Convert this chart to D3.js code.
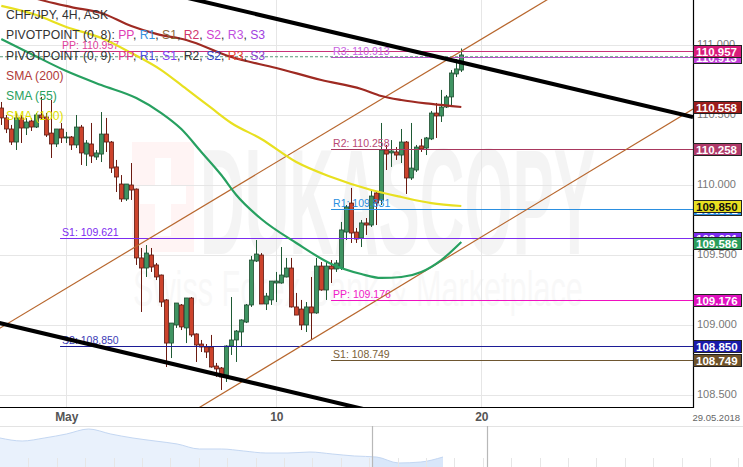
<!DOCTYPE html>
<html><head><meta charset="utf-8">
<script src="https://cdn.jsdelivr.net/npm/d3@7"></script>
<style>body{margin:0;background:#fff;overflow:hidden}svg{display:block;font-family:"Liberation Sans",Arial,sans-serif}</style>
</head><body><svg id="c" width="743" height="467"></svg>
<script>
// ---------- DATA ----------
const candleOpen = [110.550,110.479,110.400,110.307,110.479,110.407,110.457,110.414,110.500,110.486,110.371,110.293,110.400,110.336,110.343,110.286,110.414,110.221,110.293,110.200,110.221,110.364,110.307,110.129,110.007,109.900,110.000,109.971,109.479,109.407,109.500,109.429,109.357,109.179,108.871,109.000,109.143,108.979,109.193,108.936,108.864,108.843,108.843,108.707,108.693,108.643,108.850,108.893,108.950,109.021,109.143,109.457,109.500,109.150,109.179,109.300,109.300,109.343,109.407,109.129,109.114,109.000,109.129,109.086,109.421,109.250,109.421,109.400,109.407,109.664,109.871,109.664,109.621,109.729,109.714,109.943,109.893,110.250,110.229,110.236,110.214,110.307,110.050,110.107,110.279,110.264,110.329,110.514,110.493,110.557,110.629,110.793,110.821];
const candleHigh = [110.593,110.500,110.429,110.514,110.500,110.479,110.479,110.514,110.629,110.514,110.607,110.400,110.443,110.379,110.350,110.500,110.429,110.321,110.443,110.250,110.521,110.479,110.314,110.179,110.071,110.007,110.157,109.975,109.550,109.571,109.550,109.443,109.360,109.185,109.014,109.157,109.150,109.193,109.200,108.940,108.893,108.864,108.929,108.729,108.700,108.855,109.200,108.964,109.040,109.150,109.493,109.607,109.514,109.229,109.314,109.379,109.557,109.479,109.479,109.229,109.179,109.164,109.343,109.479,109.450,109.450,109.464,109.464,109.736,109.857,109.979,109.693,109.750,109.764,109.964,109.950,110.443,110.286,110.321,110.271,110.400,110.314,110.443,110.286,110.329,110.343,110.529,110.586,110.679,110.643,110.821,110.900,110.975];
const candleLow = [110.429,110.371,110.286,110.250,110.300,110.357,110.386,110.407,110.464,110.343,110.193,110.271,110.300,110.300,110.250,110.264,110.143,110.136,110.157,110.179,110.164,110.236,110.086,109.950,109.879,109.886,109.893,109.429,109.093,109.343,109.379,109.321,109.129,108.700,108.764,108.979,108.964,108.871,108.915,108.736,108.807,108.764,108.695,108.629,108.536,108.593,108.786,108.736,108.843,109.014,109.129,109.450,109.150,109.107,109.143,109.164,109.295,109.340,109.125,109.071,108.964,108.950,108.900,109.080,109.245,109.179,109.300,109.379,109.393,109.607,109.586,109.586,109.557,109.643,109.700,109.714,109.857,110.107,110.129,110.179,110.157,109.936,110.036,110.093,110.236,110.214,110.321,110.336,110.450,110.550,110.571,110.771,110.807];
const candleClose = [110.479,110.400,110.307,110.479,110.407,110.450,110.414,110.500,110.479,110.357,110.293,110.400,110.336,110.343,110.286,110.414,110.229,110.300,110.207,110.229,110.364,110.307,110.121,110.057,109.900,110.007,109.964,109.479,109.407,109.514,109.414,109.343,109.164,108.871,109.014,109.157,108.986,109.193,108.929,108.857,108.843,108.807,108.700,108.686,108.629,108.850,108.893,108.957,109.036,109.143,109.464,109.507,109.150,109.207,109.314,109.314,109.357,109.407,109.129,109.071,109.000,109.129,109.086,109.421,109.250,109.421,109.400,109.443,109.679,109.843,109.657,109.614,109.729,109.714,109.921,109.871,110.250,110.221,110.243,110.214,110.307,110.050,110.121,110.271,110.257,110.336,110.514,110.493,110.557,110.629,110.800,110.829,110.929];

const sma200Idx = [0,8,14,20,26,31,37,46,55,64,72,76,80,86,92];
const sma200 = [111.421,111.321,111.271,111.229,111.136,111.079,111.036,110.914,110.836,110.750,110.686,110.636,110.607,110.579,110.557];
const sma55Idx = [0,6,13,20,27,32,36,40,44,47,52,59,66,72,76,80,84,88,92];
const sma55 = [111.043,110.936,110.814,110.714,110.621,110.514,110.400,110.236,110.071,109.929,109.757,109.586,109.436,109.364,109.336,109.343,109.379,109.464,109.593];
const sma100Idx = [0,7,13,20,26,32,37,42,46,52,59,66,74,80,86,92];
const sma100 = [111.279,111.214,111.129,111.050,110.943,110.821,110.686,110.550,110.443,110.329,110.164,110.057,109.964,109.914,109.871,109.850];

// trend lines: [index, price] endpoints
const blackUpper = [[35,111.355],[138.34,110.486]];
const blackLower = [[-1,109.020],[75,108.378]];
const brownUpper = [[-1,108.962],[112,111.384]];
const brownLower = [[38,108.376],[138.34,110.543]];

// pivot levels
const pivotNames = ["PP","S1","S2","R3","R2","R1","PP","S1"];
const pivotValues = [110.957,109.621,108.850,110.913,110.258,109.831,109.176,108.749];
const pivotStart = [11.75,11.75,11.75,65.95,65.95,65.95,65.95,65.95];
const pivotColors = ["#c8327a","#7d2cf0","#1c1c96","#c04ad0","#a8385e","#2b8fe0","#f010c0","#6e5630"];
const pivotTextColors = ["#e0409a","#7d2cf0","#3c3cb6","#c860e0","#b84a74","#2b8fe0","#f020c8","#7a6038"];
const priceLine = 110.916;

// right-axis value tags
const tagValues = [110.913,110.957,110.558,110.258,109.831,109.850,109.621,109.586,109.176,108.850,108.749];
const tagColors = ["#c040d8","#d81b7a","#9b1c1c","#b03a6a","#2b8fe0","#e8e020","#7d2cf0","#2a9d5c","#e010c0","#1a1aaa","#6e5228"];
const tagTextColors = ["#fff","#fff","#fff","#fff","#fff","#111","#fff","#fff","#fff","#fff","#fff"];

const yTicks = [108.5,109.0,109.5,110.0,110.5,111.0];
const xTickIdx = [13,55,96];
const xTickLabels = ["May","10","20"];

const navValues = [110.571,110.357,110.571,110.857,111.214,110.857,110.571,110.357,110.143,109.786,109.786,109.643,109.500,109.500,109.571,109.429,109.286,109.214,108.786,108.857,109.214];
const navSelStart = 372, navSelEnd = 487;

// ---------- CHART ----------
const W = 743, H = 467, PR = 693, PB = 407;
const svg = d3.select("#c");
const x = d3.scaleLinear().domain([-0.26, 138.34]).range([0, PR]);
const y = d3.scaleLinear().domain([108.4143, 111.3214]).range([PB, 0]);

svg.append("defs").append("clipPath").attr("id","clip")
  .append("rect").attr("x",0).attr("y",0).attr("width",PR).attr("height",PB);

// watermark
const wm = svg.append("g");
wm.append("rect").attr("x",132).attr("y",142).attr("width",62).attr("height",110).attr("fill","#ff3030").attr("opacity",0.05);
wm.append("rect").attr("x",155).attr("y",158).attr("width",16).attr("height",78).attr("fill","#fff");
wm.append("rect").attr("x",140).attr("y",186).attr("width",46).attr("height",18).attr("fill","#fff");
function fitText(g, str, x0, y0, size, weight, targetW, op){
  const t = g.append("text").attr("font-size",size).attr("font-weight",weight).attr("fill","#000").attr("opacity",op).text(str);
  const w = t.node().getComputedTextLength() || targetW;
  t.attr("transform",`translate(${x0},${y0}) scale(${targetW/w},1)`);
}
fitText(wm, "DUKASCOPY", 200, 254, 150, "bold", 395, 0.04);
fitText(wm, "Swiss Forex Bank & Marketplace", 133, 306, 50, "normal", 450, 0.025);

// grid
const grid = svg.append("g");
grid.selectAll("line.h").data(yTicks).join("line")
  .attr("x1",0).attr("x2",PR).attr("y1",d=>Math.round(y(d))+0.5).attr("y2",d=>Math.round(y(d))+0.5)
  .attr("stroke","#e6e6e6");
grid.selectAll("line.v").data(xTickIdx).join("line")
  .attr("x1",d=>Math.round(x(d))+0.5).attr("x2",d=>Math.round(x(d))+0.5).attr("y1",0).attr("y2",PB)
  .attr("stroke","#e6e6e6");

const plot = svg.append("g").attr("clip-path","url(#clip)");

// candles
const idx = d3.range(candleOpen.length);
const cg = plot.append("g");
cg.selectAll("line").data(idx).join("line")
  .attr("x1",i=>Math.round(x(i))+0.5).attr("x2",i=>Math.round(x(i))+0.5)
  .attr("y1",i=>y(candleHigh[i])).attr("y2",i=>y(candleLow[i]))
  .attr("stroke",i=>candleClose[i]>=candleOpen[i]?"#1e5a34":"#6b1a10").attr("stroke-width",1);
cg.selectAll("rect").data(idx).join("rect")
  .attr("x",i=>Math.round(x(i))-1.5).attr("width",4)
  .attr("y",i=>y(Math.max(candleOpen[i],candleClose[i])))
  .attr("height",i=>Math.max(1,Math.abs(y(candleOpen[i])-y(candleClose[i]))))
  .attr("fill",i=>candleClose[i]>=candleOpen[i]?"#3f9462":"#cc432c")
  .attr("stroke",i=>candleClose[i]>=candleOpen[i]?"#1d4d2f":"#5b1a12").attr("stroke-width",0.8);

// pivot lines
const pv = plot.append("g");
pivotValues.forEach((v,k)=>{
  pv.append("line").attr("x1",x(pivotStart[k])).attr("x2",PR)
    .attr("y1",Math.round(y(v))+0.5).attr("y2",Math.round(y(v))+0.5)
    .attr("stroke",pivotColors[k]).attr("stroke-width",1.2);
  pv.append("text").attr("x",x(pivotStart[k])+2).attr("y",Math.round(y(v))-2)
    .attr("font-size",10.5).attr("fill",pivotTextColors[k]).text(pivotNames[k]+": "+v.toFixed(3));
});
plot.append("line").attr("x1",0).attr("x2",PR).attr("y1",y(priceLine)).attr("y2",y(priceLine))
  .attr("stroke","#5a9a7a").attr("stroke-dasharray","3,2").attr("stroke-width",1);

// trend lines
const tl = d3.line().x(d=>x(d[0])).y(d=>y(d[1]));
plot.append("path").attr("d",tl(brownUpper)).attr("stroke","#b8672e").attr("stroke-width",1.2).attr("fill","none");
plot.append("path").attr("d",tl(brownLower)).attr("stroke","#b8672e").attr("stroke-width",1.2).attr("fill","none");

// SMAs
const sl = d3.line().x(d=>x(d[0])).y(d=>y(d[1])).curve(d3.curveMonotoneX);
plot.append("path").attr("d",sl(sma100Idx.map((i,k)=>[i,sma100[k]]))).attr("stroke","#e8e020").attr("stroke-width",2.2).attr("fill","none");
plot.append("path").attr("d",sl(sma200Idx.map((i,k)=>[i,sma200[k]]))).attr("stroke","#9e2a22").attr("stroke-width",2.2).attr("fill","none");
plot.append("path").attr("d",sl(sma55Idx.map((i,k)=>[i,sma55[k]]))).attr("stroke","#27a060").attr("stroke-width",2.2).attr("fill","none");

plot.append("path").attr("d",tl(blackUpper)).attr("stroke","#000").attr("stroke-width",4).attr("fill","none");
plot.append("path").attr("d",tl(blackLower)).attr("stroke","#000").attr("stroke-width",4).attr("fill","none");

// frame
svg.append("line").attr("x1",PR+0.5).attr("x2",PR+0.5).attr("y1",0).attr("y2",PB+1).attr("stroke","#000").attr("stroke-width",1.2);
svg.append("line").attr("x1",0).attr("x2",PR+1).attr("y1",PB+0.5).attr("y2",PB+0.5).attr("stroke","#000").attr("stroke-width",1.2);

// right axis
const ya = d3.axisRight(y).tickValues(yTicks).tickFormat(d3.format(".3f")).tickSize(0).tickPadding(4);
const yg = svg.append("g").attr("transform",`translate(${PR},0)`).call(ya);
yg.select(".domain").remove();
yg.selectAll("text").attr("font-size",11).attr("fill","#777").attr("font-family","Liberation Sans, Arial, sans-serif").attr("dy","0.2em");

// value tags
const tg = svg.append("g");
tagValues.forEach((v,k)=>{
  const cy = y(v);
  tg.append("rect").attr("x",PR+0.5).attr("y",Math.round(cy-6)+0.5).attr("width",48).attr("height",12)
    .attr("fill",tagColors[k]).attr("stroke","#222").attr("stroke-width",1);
  tg.append("text").attr("x",PR+3).attr("y",Math.round(cy)+4.5).attr("font-size",11.5).attr("font-weight","bold")
    .attr("fill",tagTextColors[k]).text(v.toFixed(3));
});

// x axis
const xa = d3.axisBottom(x).tickValues(xTickIdx).tickFormat((d,i)=>xTickLabels[i]).tickSize(0).tickPadding(4);
const xg = svg.append("g").attr("transform",`translate(0,${PB+1})`).call(xa);
xg.select(".domain").remove();
xg.selectAll("text").attr("font-size",12).attr("font-weight","bold").attr("fill","#555").attr("font-family","Liberation Sans, Arial, sans-serif");
svg.append("text").attr("x",740).attr("y",421).attr("text-anchor","end").attr("font-size",9.5).attr("fill","#666").text("29.05.2018");

// navigator
const navTop = 426;
svg.append("line").attr("x1",0).attr("x2",W).attr("y1",navTop+0.5).attr("y2",navTop+0.5).attr("stroke","#e3e3e3");
const nx = d3.scaleLinear().domain([0, navValues.length-1]).range([0, 443]);
const ny = d3.scaleLinear().domain([108.5, 111.5]).range([H, navTop-1]);
const navData = navValues.map((v,i)=>[i,v]);
svg.append("path").attr("d",d3.area().x(d=>nx(d[0])).y0(H).y1(d=>ny(d[1])).curve(d3.curveMonotoneX)(navData))
  .attr("fill","#e9f1fc");
svg.append("clipPath").attr("id","navsel").append("rect").attr("x",navSelStart).attr("y",navTop).attr("width",navSelEnd-navSelStart).attr("height",H-navTop);
svg.append("path").attr("clip-path","url(#navsel)").attr("d",d3.area().x(d=>nx(d[0])).y0(H).y1(d=>ny(d[1])).curve(d3.curveMonotoneX)(navData))
  .attr("fill","#d9e7fa");
svg.append("path").attr("d",d3.line().x(d=>nx(d[0])).y(d=>ny(d[1])).curve(d3.curveMonotoneX)(navData))
  .attr("fill","none").attr("stroke","#c4d7f2").attr("stroke-width",1);
svg.selectAll("line.nt").data(d3.range(1,27)).join("line")
  .attr("x1",d=>Math.round(d*28.4)+0.5).attr("x2",d=>Math.round(d*28.4)+0.5).attr("y1",458).attr("y2",H)
  .attr("stroke","#e6e6e6");
[navSelStart, navSelEnd].forEach(v=>{
  svg.append("line").attr("x1",v+0.5).attr("x2",v+0.5).attr("y1",navTop).attr("y2",H).attr("stroke","#b8b8b8").attr("stroke-width",1.2);
});

// legend
const lg = svg.append("g").attr("font-size",12.2);
lg.append("text").attr("x",6).attr("y",19).attr("fill","#333").text("CHF/JPY, 4H, ASK");
const leg1 = [["PIVOTPOINT (0, 8): ","#333"],["PP","#e03cb4"],[", ","#333"],["R1","#3a90e0"],[", ","#333"],["S1","#8b6a3a"],[", ","#333"],["R2","#d0346a"],[", ","#333"],["S2","#d040d0"],[", ","#333"],["R3","#c050e0"],[", ","#333"],["S3","#a040e0"]];
const leg2 = [["PIVOTPOINT (0, 9): ","#333"],["PP","#e0308a"],[", ","#333"],["R1","#5050e0"],[", ","#333"],["S1","#8040f0"],[", ","#333"],["R2","#333"],[", ","#333"],["S2","#3040c0"],[", ","#333"],["R3","#e04030"],[", ","#333"],["S3","#9040d0"]];
[[leg1,39],[leg2,60]].forEach(([parts,yy])=>{
  const t = lg.append("text").attr("x",6).attr("y",yy);
  parts.forEach(p=>t.append("tspan").attr("fill",p[1]).text(p[0]));
});
lg.append("text").attr("x",6).attr("y",80).attr("fill","#b03a3a").text("SMA (200)");
lg.append("text").attr("x",6).attr("y",100).attr("fill","#2aa060").text("SMA (55)");
lg.append("text").attr("x",6).attr("y",120).attr("fill","#e0e000").text("SMA (100)");
</script></body></html>
